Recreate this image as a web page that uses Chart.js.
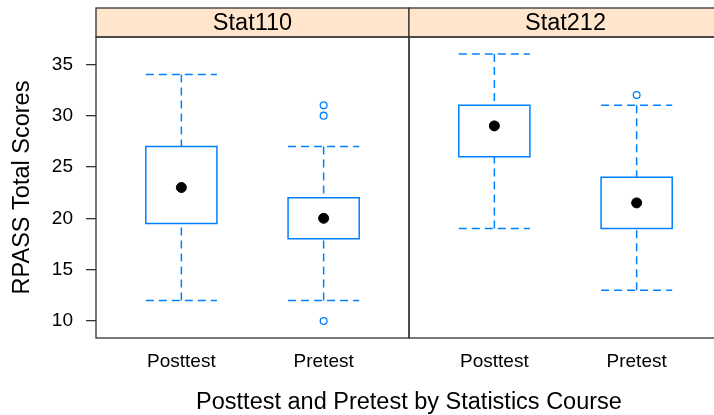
<!DOCTYPE html>
<html lang="en">
<head>
    <meta charset="UTF-8">
    <title>RPASS Total Scores</title>
    <script src="https://cdn.jsdelivr.net/npm/chart.js"></script>
    <style>
        html, body { margin: 0; padding: 0; overflow: hidden; background: #fff; }
    </style>
</head>
<body>
    <canvas id="myChart" width="730" height="415"></canvas>

    <script>
        // panels and categories
        const courses = ['Stat110', 'Stat212'];
        const tests = ['Posttest', 'Pretest'];

        // box stats, order: Stat110 Posttest, Stat110 Pretest, Stat212 Posttest, Stat212 Pretest
        const lowWhisker = [12, 12, 19, 13];
        const lowerQuartile = [19.5, 18, 26, 19];
        const medians = [23, 20, 29, 21.5];
        const upperQuartile = [27, 22, 31, 24];
        const highWhisker = [34, 27, 36, 31];
        const outliers = [[], [31, 30, 10], [], [32]];

        const yTicks = [10, 15, 20, 25, 30, 35];

        const blue = '#0080ff';
        const frameColor = '#333';
        const stripTop = 8;
        const panelSpan = tests.length + 0.2;
        const halfBox = 0.25;
        const xPos = i => Math.floor(i / tests.length) * panelSpan + (i % tests.length) + 1;

        // build line paths for boxes and whiskers, split with null gaps
        const boxPts = [], whiskerPts = [], medianPts = [], outlierPts = [];
        medians.forEach((m, i) => {
            const x = xPos(i), lo = lowerQuartile[i], hi = upperQuartile[i];
            boxPts.push(
                {x: x, y: lo}, {x: x + halfBox, y: lo}, {x: x + halfBox, y: hi},
                {x: x - halfBox, y: hi}, {x: x - halfBox, y: lo}, {x: x, y: lo},
                {x: x, y: null}
            );
            whiskerPts.push(
                {x: x, y: highWhisker[i]}, {x: x, y: hi}, {x: x, y: null},
                {x: x, y: lowWhisker[i]}, {x: x, y: lo}, {x: x, y: null},
                {x: x - halfBox, y: highWhisker[i]}, {x: x + halfBox, y: highWhisker[i]}, {x: x, y: null},
                {x: x - halfBox, y: lowWhisker[i]}, {x: x + halfBox, y: lowWhisker[i]}, {x: x, y: null}
            );
            medianPts.push({x: x, y: m});
            outliers[i].forEach(v => outlierPts.push({x: x, y: v}));
        });

        // strips and panel frames
        const panelFrame = {
            id: 'panelFrame',
            afterDraw(chart) {
                const {ctx, chartArea: a, scales: {x}} = chart;
                ctx.save();
                ctx.lineWidth = 1.3;
                ctx.strokeStyle = frameColor;
                courses.forEach((name, p) => {
                    const x0 = x.getPixelForValue(0.4 + p * panelSpan);
                    const x1 = x.getPixelForValue(0.4 + (p + 1) * panelSpan);
                    ctx.fillStyle = '#ffe5cc';
                    ctx.fillRect(x0, stripTop, x1 - x0, a.top - stripTop);
                    ctx.strokeRect(x0, stripTop, x1 - x0, a.top - stripTop);
                    ctx.strokeRect(x0, a.top, x1 - x0, a.bottom - a.top);
                    ctx.fillStyle = '#000';
                    ctx.font = '23.5px "Liberation Sans", Arial, sans-serif';
                    ctx.textAlign = 'center';
                    ctx.textBaseline = 'middle';
                    ctx.fillText(name, (x0 + x1) / 2, 24);
                });
                ctx.restore();
            }
        };

        Chart.defaults.font.family = '"Liberation Sans", Arial, sans-serif';
        Chart.defaults.color = '#000';

        const ctx = document.getElementById('myChart').getContext('2d');
        new Chart(ctx, {
            type: 'scatter',
            data: {
                datasets: [
                    {data: boxPts, showLine: true, spanGaps: false, borderColor: blue, borderWidth: 1.5,
                     borderJoinStyle: 'miter', pointRadius: 0, tension: 0},
                    {data: whiskerPts, showLine: true, spanGaps: false, borderColor: blue, borderWidth: 1.5,
                     borderDash: [8, 5], pointRadius: 0, tension: 0},
                    {data: outlierPts, pointRadius: 3.4, borderWidth: 1.3, borderColor: blue, backgroundColor: '#fff'},
                    {data: medianPts, pointRadius: 5, borderWidth: 1, borderColor: '#000', backgroundColor: '#000'}
                ]
            },
            options: {
                responsive: false,
                animation: false,
                events: [],
                layout: { padding: { top: 37, right: 8, left: 0, bottom: 0 } },
                plugins: { legend: { display: false }, tooltip: { enabled: false } },
                scales: {
                    x: {
                        type: 'linear',
                        min: 0.4,
                        max: 0.4 + panelSpan * courses.length,
                        afterBuildTicks: s => { s.ticks = medians.map((_, i) => ({value: xPos(i)})); },
                        afterFit: s => { s.height = 77; },
                        grid: { display: false },
                        border: { display: false },
                        ticks: {
                            callback: (v, i) => tests[i % tests.length],
                            font: { size: 19 },
                            padding: 4.5,
                            maxRotation: 0,
                            autoSkip: false
                        },
                        title: {
                            display: true,
                            text: 'Posttest and Pretest by Statistics Course',
                            font: { size: 23.5, lineHeight: 1 },
                            padding: { top: 0, bottom: 0.5 }
                        }
                    },
                    y: {
                        min: 8.34,
                        max: 37.66,
                        afterBuildTicks: s => { s.ticks = yTicks.map(v => ({value: v})); },
                        afterFit: s => { s.width = 96; },
                        grid: { drawOnChartArea: false, tickLength: 10, color: frameColor, lineWidth: 1.3 },
                        border: { display: false },
                        ticks: { font: { size: 19 }, padding: 13 },
                        title: {
                            display: true,
                            text: 'RPASS Total Scores',
                            font: { size: 23.5, lineHeight: 1 },
                            padding: { top: 10.75, bottom: 0 }
                        }
                    }
                }
            },
            plugins: [panelFrame]
        });
    </script>
</body>
</html>
